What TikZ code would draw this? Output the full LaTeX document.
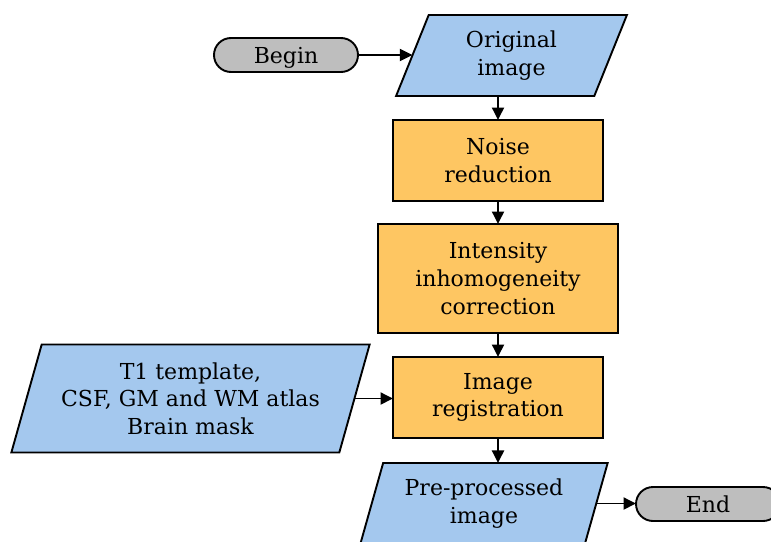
\documentclass[tikz,border=0pt]{standalone}
\usepackage{fontspec}
\setmainfont{DejaVu Serif}
\usetikzlibrary{shapes.geometric,arrows.meta}
\definecolor{inblue}{RGB}{164,200,238}
\definecolor{procorange}{RGB}{254,198,98}
\definecolor{termgray}{RGB}{190,190,190}
\tikzset{
  base/.style={draw=black, line width=1.9pt, inner sep=0pt, outer sep=0pt,
    align=center, font=\fontsize{22}{27.7}\selectfont},
  terminal/.style={base, fill=termgray, rounded corners=17pt,
    minimum width=144pt, minimum height=34pt, text height=16pt, text depth=0pt},
  process/.style={base, fill=procorange, rectangle},
  io/.style={base, fill=inblue, trapezium, trapezium left angle=70,
    trapezium right angle=110, trapezium stretches=true},
  flow/.style={line width=1.9pt, -{Triangle[length=12.5pt,width=12pt]}},
}
\begin{document}
\begin{tikzpicture}[x=1pt,y=-1pt]
  \useasboundingbox (0,0) rectangle (771,541);
  % pipeline stages
  \node[terminal] (begin) at (286,55) {Begin};
  \node[io, minimum width=231pt, minimum height=81pt] (orig) at (511.5,55.5) {Original\\image};
  \node[process, minimum width=210pt, minimum height=81pt] (noise) at (498,160.5) {Noise\\reduction};
  \node[process, minimum width=240pt, minimum height=109pt] (inh) at (498,278.5) {Intensity\\inhomogeneity\\correction};
  \node[process, minimum width=210pt, minimum height=81pt] (reg) at (498,397.5) {Image\\registration};
  \node[io, minimum width=359pt, minimum height=108pt] (atlas) at (190.5,398.5) {T1 template,\\CSF, GM and WM atlas\\Brain mask};
  \node[io, minimum width=248pt, minimum height=81pt] (pre) at (484,503.5) {Pre-processed\\image};
  \node[terminal] (end) at (708,504) {End};
  % connectors
  \draw[flow] (begin.east) -- (begin.east -| orig.west);
  \draw[flow] (orig.south -| noise.north) -- (noise.north);
  \draw[flow] (noise.south) -- (inh.north);
  \draw[flow] (inh.south) -- (reg.north);
  \draw[flow] (atlas.east) -- (atlas.east -| reg.west);
  \draw[flow] (reg.south) -- (reg.south |- pre.north);
  \draw[flow] (pre.east) -- (pre.east -| end.west);
\end{tikzpicture}
\end{document}
